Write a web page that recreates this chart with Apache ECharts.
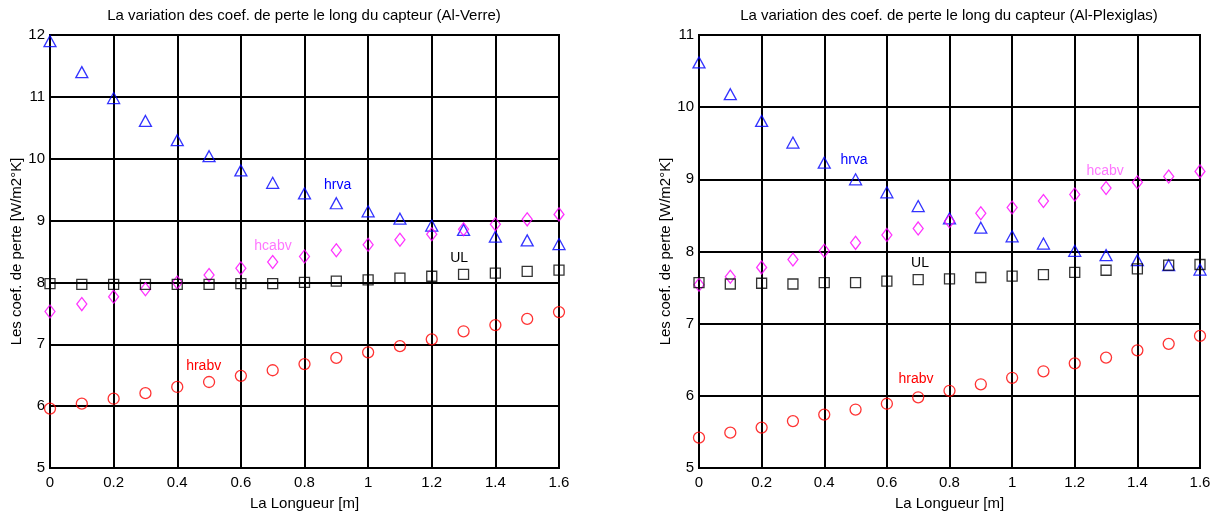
<!DOCTYPE html>
<html>
<head>
<meta charset="utf-8">
<script src="https://cdn.jsdelivr.net/npm/echarts@6/dist/echarts.min.js"></script>
<style>
  html, body { margin: 0; padding: 0; background: #fff; }
  #chart { width: 1220px; height: 517px; }
</style>
</head>
<body>
<div id="chart"></div>
<script>
// Position along the collector [m]
const lengths = [0, 0.1, 0.2, 0.3, 0.4, 0.5, 0.6, 0.7, 0.8, 0.9, 1.0, 1.1, 1.2, 1.3, 1.4, 1.5, 1.6];

// Al-Verre loss coefficients [W/m2°K]
const verreHrva  = [11.9, 11.4, 10.98, 10.61, 10.30, 10.04, 9.81, 9.61, 9.44, 9.28, 9.15, 9.03, 8.92, 8.85, 8.74, 8.68, 8.62];
const verreHcabv = [7.53, 7.65, 7.77, 7.89, 8.0, 8.12, 8.23, 8.33, 8.42, 8.52, 8.61, 8.69, 8.78, 8.86, 8.94, 9.02, 9.10];
const verreUL    = [7.98, 7.97, 7.97, 7.97, 7.97, 7.97, 7.98, 7.98, 8.0, 8.02, 8.04, 8.07, 8.1, 8.13, 8.15, 8.18, 8.2];
const verreHrabv = [5.96, 6.04, 6.12, 6.21, 6.31, 6.39, 6.49, 6.58, 6.68, 6.78, 6.87, 6.97, 7.08, 7.21, 7.31, 7.41, 7.52];

// Al-Plexiglas loss coefficients [W/m2°K]
const plexiHrva  = [10.62, 10.18, 9.81, 9.51, 9.23, 9.0, 8.82, 8.63, 8.46, 8.33, 8.21, 8.11, 8.01, 7.95, 7.88, 7.81, 7.75];
const plexiHcabv = [7.54, 7.65, 7.78, 7.89, 8.01, 8.12, 8.23, 8.32, 8.42, 8.53, 8.61, 8.70, 8.79, 8.88, 8.96, 9.04, 9.11];
const plexiUL    = [7.57, 7.55, 7.56, 7.55, 7.57, 7.57, 7.59, 7.61, 7.62, 7.64, 7.66, 7.68, 7.71, 7.74, 7.76, 7.81, 7.82];
const plexiHrabv = [5.42, 5.49, 5.56, 5.65, 5.74, 5.81, 5.89, 5.98, 6.07, 6.16, 6.25, 6.34, 6.45, 6.53, 6.63, 6.72, 6.83];

const titles = [
  'La variation des coef. de perte le long du capteur (Al-Verre)',
  'La variation des coef. de perte le long du capteur (Al-Plexiglas)'
];
const xName = 'La Longueur [m]';
const yName = 'Les coef. de perte [W/m2°K]';

const FONT = '"Liberation Sans", Arial, Helvetica, sans-serif';

const pair = (ys) => lengths.map((x, i) => [x, ys[i]]);

const markers = {
  hrva:  { symbol: 'triangle', size: [12, 11], color: '#0000ff', text: '#0000ff' },
  hcabv: { symbol: 'diamond',  size: [10, 13], color: '#ff00ff', text: '#ff77ff' },
  UL:    { symbol: 'rect',     size: [10, 10], color: '#000000', text: '#000000' },
  hrabv: { symbol: 'circle',   size: 11,       color: '#ff0000', text: '#ff0000' }
};

function series(idx, key, ys, labelAt) {
  const m = markers[key];
  return {
    type: 'scatter',
    name: key,
    xAxisIndex: idx,
    yAxisIndex: idx,
    clip: false,
    symbol: m.symbol,
    symbolSize: m.size,
    itemStyle: { color: 'rgba(0,0,0,0)', borderColor: m.color, borderWidth: 1.3 },
    emphasis: { disabled: true },
    data: pair(ys),
    markPoint: {
      symbol: 'circle',
      symbolSize: 0,
      silent: true,
      label: {
        show: true,
        position: 'inside',
        formatter: key,
        color: m.text,
        fontSize: 14,
        fontFamily: FONT
      },
      data: [{ coord: labelAt }]
    }
  };
}

function xAxis(idx) {
  return {
    type: 'value', gridIndex: idx, min: 0, max: 1.6, interval: 0.2,
    name: xName, nameLocation: 'middle', nameGap: 28,
    nameTextStyle: { color: '#000', fontSize: 15, fontFamily: FONT },
    axisLine: { lineStyle: { color: '#000', width: 2 } },
    axisTick: { show: false },
    axisLabel: {
      color: '#000', fontSize: 15, fontFamily: FONT, margin: 7,
      formatter: (v) => String(+v.toFixed(1))
    },
    splitLine: { show: true, lineStyle: { color: '#000', width: 2 } }
  };
}

function yAxis(idx, max) {
  return {
    type: 'value', gridIndex: idx, min: 5, max: max, interval: 1,
    name: yName, nameLocation: 'middle', nameGap: 25,
    nameTextStyle: { color: '#000', fontSize: 15, fontFamily: FONT },
    axisLine: { lineStyle: { color: '#000', width: 2 } },
    axisTick: { show: false },
    axisLabel: { color: '#000', fontSize: 15, fontFamily: FONT, margin: 5 },
    splitLine: { show: true, lineStyle: { color: '#000', width: 2 } }
  };
}

const option = {
  animation: false,
  backgroundColor: '#fff',
  title: [
    { text: titles[0], left: 304, top: 8, padding: 0, textAlign: 'center',
      textStyle: { fontSize: 15, fontWeight: 'normal', color: '#000', fontFamily: FONT } },
    { text: titles[1], left: 949, top: 8, padding: 0, textAlign: 'center',
      textStyle: { fontSize: 15, fontWeight: 'normal', color: '#000', fontFamily: FONT } }
  ],
  grid: [
    { left: 50, top: 35, width: 509, height: 433, show: true, borderColor: '#000', borderWidth: 2, backgroundColor: '#fff' },
    { left: 699, top: 35, width: 501, height: 433, show: true, borderColor: '#000', borderWidth: 2, backgroundColor: '#fff' }
  ],
  xAxis: [xAxis(0), xAxis(1)],
  yAxis: [yAxis(0, 12), yAxis(1, 11)],
  series: [
    series(0, 'hrva',  verreHrva,  [0.904, 9.57]),
    series(0, 'hcabv', verreHcabv, [0.701, 8.59]),
    series(0, 'UL',    verreUL,    [1.286, 8.39]),
    series(0, 'hrabv', verreHrabv, [0.483, 6.64]),
    series(1, 'hrva',  plexiHrva,  [0.495, 9.26]),
    series(1, 'hcabv', plexiHcabv, [1.297, 9.11]),
    series(1, 'UL',    plexiUL,    [0.706, 7.84]),
    series(1, 'hrabv', plexiHrabv, [0.693, 6.23])
  ]
};

const chart = echarts.init(document.getElementById('chart'), null, { renderer: 'canvas' });
chart.setOption(option);
</script>
</body>
</html>
